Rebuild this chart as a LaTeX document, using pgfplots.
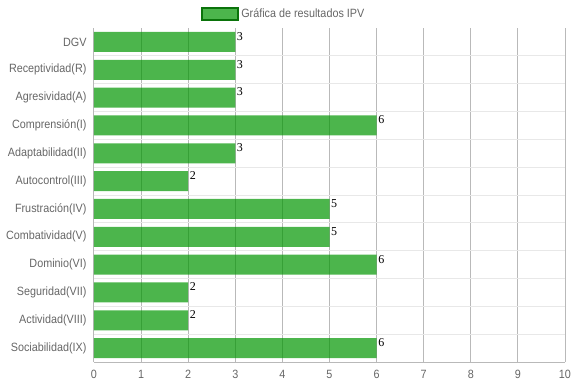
\documentclass[border=0pt]{standalone}
\usepackage{pgfplots}
\pgfplotsset{compat=1.18}
\usepackage{fontspec}
\setmainfont{Liberation Sans}[FakeStretch=0.9]
\newfontfamily\seriffont{Liberation Serif}
\definecolor{barfill}{RGB}{0,150,0}
\definecolor{legborder}{RGB}{10,115,10}
\definecolor{labgray}{RGB}{102,102,102}
\definecolor{vgrid}{RGB}{185,185,185}
\definecolor{hgrid}{RGB}{232,232,232}
\begin{document}
\begin{tikzpicture}
\path[use as bounding box] (0,0) rectangle (574pt,386pt);
\begin{axis}[
  at={(94pt,24pt)}, anchor=south west, scale only axis,
  width=471pt, height=334pt,
  xbar, bar width=20pt,
  xmin=0, xmax=10, ymin=-0.5, ymax=11.5, y dir=reverse,
  xtick={0,...,10}, ytick={0,...,11},
  yticklabels={DGV,Receptividad(R),Agresividad(A),Comprensión(I),Adaptabilidad(II),Autocontrol(III),Frustración(IV),Combatividad(V),Dominio(VI),Seguridad(VII),Actividad(VIII),Sociabilidad(IX)},
  minor ytick={0.5,1.5,...,10.5},
  xmajorgrids, major x grid style={vgrid, line width=1pt},
  yminorgrids, minor y grid style={hgrid, line width=1pt},
  axis x line*=bottom, axis y line*=left,
  axis line style={vgrid, line width=1pt, -},
  tick align=outside,
  major tick length=0pt, minor tick length=8pt,
  minor tick style={hgrid, line width=1pt},
  ytick style={draw=none},
  /pgf/number format/assume math mode=true,
  tick label style={font=\fontsize{12}{14}\selectfont, text=labgray},
  xticklabel style={yshift=-4.5pt},
  yticklabel style={xshift=-4pt},
  nodes near coords,
  every node near coord/.append style={anchor=west, yshift=5.5pt, inner sep=1.5pt, fill opacity=1, text opacity=1, font=\seriffont\fontsize{12}{14}\selectfont, text=black},
  legend style={at={(0.403,1.042)}, anchor=center, draw=none, fill=none,
    font=\fontsize{12}{14}\selectfont, text=labgray,
    /tikz/every even column/.append style={column sep=1.5pt}},
  legend image code/.code={\draw[fill=barfill, fill opacity=0.7, draw=legborder, line width=2pt] (0pt,-6pt) rectangle (36pt,6pt);},
]
\addplot[draw=none, fill=barfill, fill opacity=0.7] coordinates {
  (3,0) (3,1) (3,2) (6,3) (3,4) (2,5) (5,6) (5,7) (6,8) (2,9) (2,10) (6,11)
};
\addlegendentry{Gráfica de resultados IPV}
\end{axis}
\end{tikzpicture}
\end{document}
